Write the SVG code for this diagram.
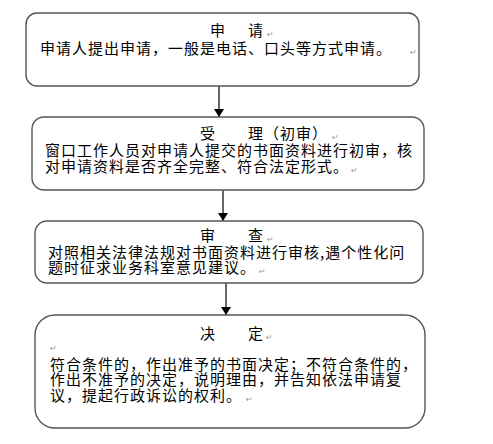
<svg xmlns="http://www.w3.org/2000/svg" width="493" height="444" viewBox="0 0 493 444">
<defs>
<style>
.box{fill:#fff;stroke:#555;stroke-width:1.4}
.t{font-family:"Noto Sans CJK SC","Noto Sans",sans-serif;font-size:15px;letter-spacing:1px;fill:#000}
.pm{font-family:"DejaVu Sans",sans-serif;font-size:8px;fill:#999}
.ln{stroke:#000;stroke-width:1.2;fill:none}
</style>
<marker id="ah" markerWidth="8" markerHeight="10" refX="8" refY="5" orient="auto" markerUnits="userSpaceOnUse" viewBox="0 0 8 10">
<path d="M0,0 L8,5 L0,10 Z" fill="#000"/>
</marker>
</defs>
<rect width="493" height="444" fill="#fff"/>
<g id="connectors">
<line class="ln" x1="219" y1="86" x2="219" y2="117" marker-end="url(#ah)"/>
<line class="ln" x1="223" y1="190" x2="223" y2="221" marker-end="url(#ah)"/>
<line class="ln" x1="226" y1="283" x2="226" y2="315" marker-end="url(#ah)"/>
</g>
<g id="node-apply">
<rect class="box" x="26" y="13" width="393" height="73" rx="11"/>
<text class="t" y="36"><tspan x="210">申</tspan><tspan x="248">请</tspan></text>
<text class="pm" x="267" y="37">↵</text>
<text class="t" x="40" y="54">申请人提出申请，一般是电话、口头等方式申请。</text>
<text class="pm" x="410" y="55">↵</text>
</g>
<g id="node-accept">
<rect class="box" x="32" y="117" width="392" height="73" rx="12"/>
<text class="t" y="139"><tspan x="200">受</tspan><tspan x="248">理（初审）</tspan></text>
<text class="pm" x="332" y="140">↵</text>
<text class="t" x="45" y="156">窗口工作人员对申请人提交的书面资料进行初审，核</text>
<text class="t" x="45" y="172">对申请资料是否齐全完整、符合法定形式。</text>
<text class="pm" x="351" y="173">↵</text>
</g>
<g id="node-review">
<rect class="box" x="35" y="221" width="388" height="62" rx="12"/>
<text class="t" y="241"><tspan x="200">审</tspan><tspan x="248">查</tspan></text>
<text class="pm" x="267" y="242">↵</text>
<text class="t" x="48" y="258">对照相关法律法规对书面资料进行审核,遇个性化问</text>
<text class="t" x="48" y="273">题时征求业务科室意见建议。</text>
<text class="pm" x="259" y="274">↵</text>
</g>
<g id="node-decide">
<rect class="box" x="35" y="315" width="390" height="113" rx="20"/>
<text class="t" y="339"><tspan x="200">决</tspan><tspan x="248">定</tspan></text>
<text class="pm" x="266" y="340">↵</text>
<text class="pm" x="50" y="351">↵</text>
<text class="t" x="50" y="370">符合条件的，作出准予的书面决定；不符合条件的，</text>
<text class="t" x="50" y="385">作出不准予的决定，说明理由，并告知依法申请复</text>
<text class="t" x="50" y="401">议，提起行政诉讼的权利。</text>
<text class="pm" x="246" y="402">↵</text>
</g>
</svg>
